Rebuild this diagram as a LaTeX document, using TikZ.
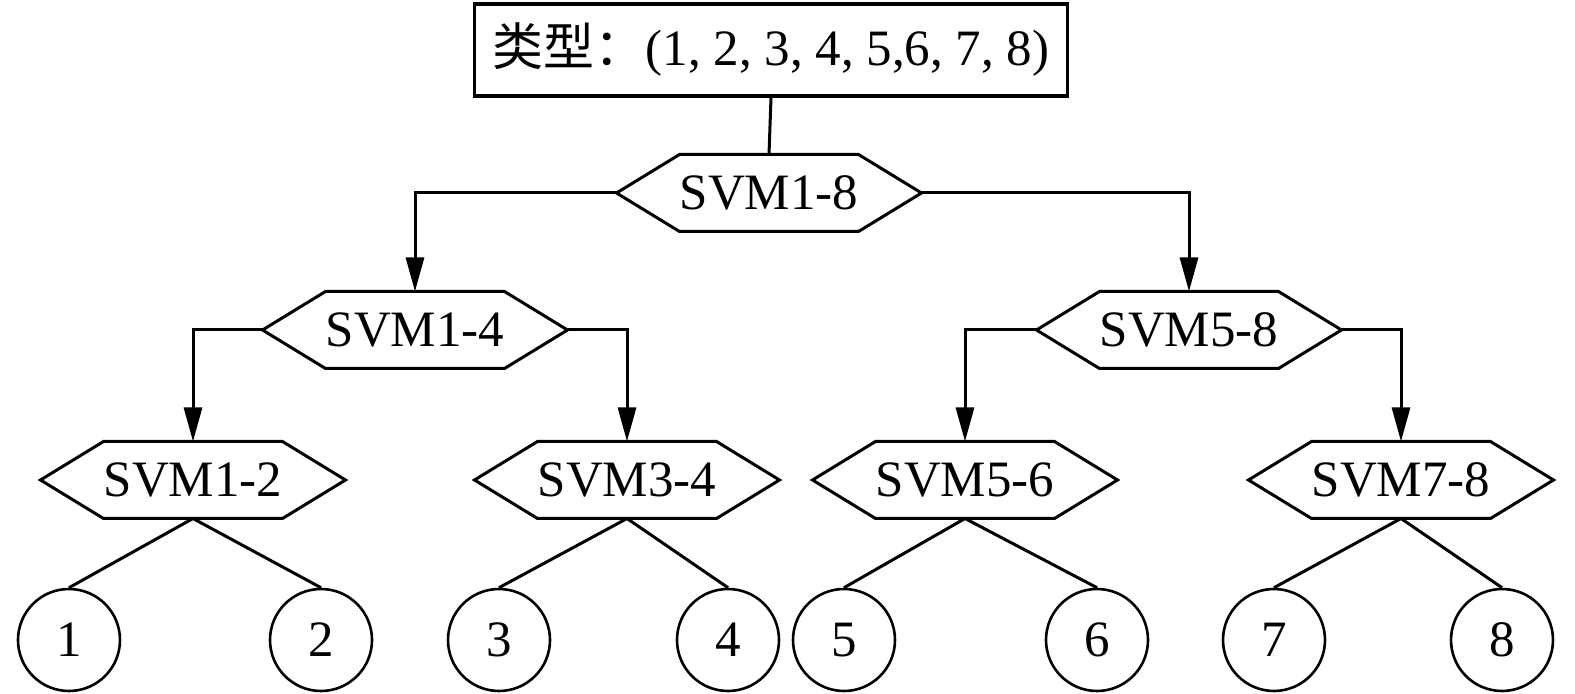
\documentclass[tikz,border=0pt]{standalone}
\usepackage{fontspec}
\setmainfont{Liberation Serif}
\newfontfamily\cjk{Noto Sans CJK SC}
\usetikzlibrary{arrows.meta}
\newcommand\hexnode[3]{%
  \node[hexin] (#1) at (#2) {\makebox[0pt]{#3}};
  \draw[hexline] (#1.north west) -- (#1.north east)
     -- ([xshift=31.5pt]#1.east) coordinate (#1-r)
     -- (#1.south east) -- (#1.south west)
     -- ([xshift=-31.5pt]#1.west) coordinate (#1-l) -- cycle;}
\begin{document}
\begin{tikzpicture}[x=0.5pt,y=-0.5pt,
  line width=1.5pt,
  every node/.style={font=\fontsize{25.5}{30}\selectfont},
  hexin/.style={minimum width=88pt,minimum height=37pt,inner sep=0pt},
  hexline/.style={draw=black,line width=1.5pt,line join=miter},
  leaf/.style={draw,circle,minimum size=51pt,inner sep=0pt,line width=1.3pt},
  topbox/.style={draw,minimum width=296.5pt,minimum height=46pt,inner sep=0pt,line width=1.6pt},
  conn/.style={draw,line width=1.5pt},
  arr/.style={conn,-{Triangle[length=17pt,width=9pt]}}
]
\useasboundingbox (0,0) rectangle (1575,694);
\node[topbox] (top) at (771,50) {{\cjk 类型：}(1, 2, 3, 4, 5,6, 7, 8)};
\hexnode{s18}{769,193}{SVM1-8}
\hexnode{s14}{415,330}{SVM1-4}
\hexnode{s58}{1189,330}{SVM5-8}
\hexnode{s12}{193,480}{SVM1-2}
\hexnode{s34}{627,480}{SVM3-4}
\hexnode{s56}{965,480}{SVM5-6}
\hexnode{s78}{1401,480}{SVM7-8}
\node[leaf] (c1) at (69,640) {1};
\node[leaf] (c2) at (321,640) {2};
\node[leaf] (c3) at (499,640) {3};
\node[leaf] (c4) at (728,640) {4};
\node[leaf] (c5) at (844,640) {5};
\node[leaf] (c6) at (1097,640) {6};
\node[leaf] (c7) at (1274,640) {7};
\node[leaf] (c8) at (1502,640) {8};
\draw[conn] (top.south) -- (s18.north);
\draw[arr] (s18-l) -| (s14.north);
\draw[arr] (s18-r) -| (s58.north);
\draw[arr] (s14-l) -| (s12.north);
\draw[arr] (s14-r) -| (s34.north);
\draw[arr] (s58-l) -| (s56.north);
\draw[arr] (s58-r) -| (s78.north);
\draw[conn] (s12.south) -- (c1.north);
\draw[conn] (s12.south) -- (c2.north);
\draw[conn] (s34.south) -- (c3.north);
\draw[conn] (s34.south) -- (c4.north);
\draw[conn] (s56.south) -- (c5.north);
\draw[conn] (s56.south) -- (c6.north);
\draw[conn] (s78.south) -- (c7.north);
\draw[conn] (s78.south) -- (c8.north);
\end{tikzpicture}
\end{document}
